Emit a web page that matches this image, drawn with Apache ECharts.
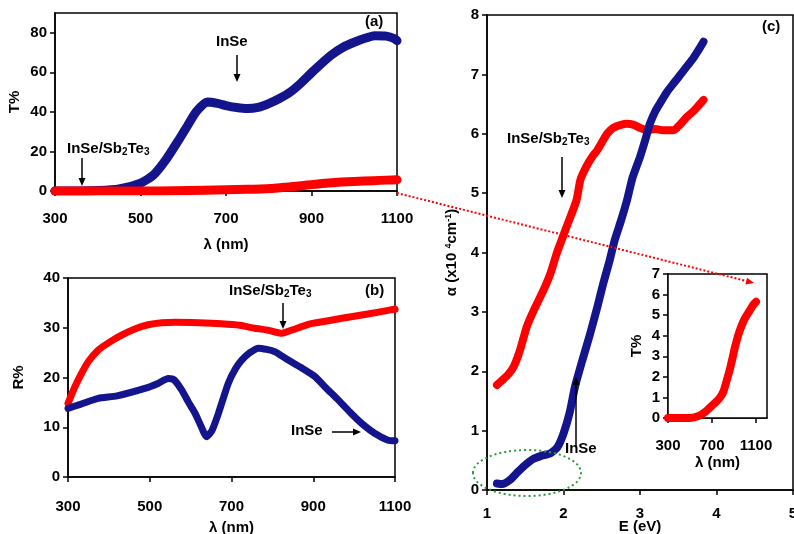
<!DOCTYPE html>
<html>
<head>
<meta charset="utf-8">
<script src="https://cdn.jsdelivr.net/npm/echarts@6/dist/echarts.min.js"></script>
<style>
  html, body { margin: 0; padding: 0; background: #fff; }
  #chart { width: 794px; height: 534px; }
</style>
</head>
<body>
<div id="chart"></div>
<script>
// (a) transmission T% vs wavelength
var tLambdaInSe = [300, 350, 400, 450, 500, 530, 560, 590, 610, 630, 656, 680, 700, 725, 750, 775, 800, 825, 850, 875, 906, 945, 975, 1000, 1025, 1047, 1075, 1094, 1100];
var tInSe       = [0, 0, 0.2, 1, 4, 8, 16, 26, 33, 40, 45, 44.3, 43.2, 42.2, 41.7, 42.3, 44.2, 46.8, 50, 54.5, 61, 68.5, 72.8, 75.2, 77.2, 78.5, 78.3, 77, 76];
var tLambdaHet  = [300, 400, 500, 580, 650, 700, 750, 780, 805, 830, 864, 890, 910, 940, 970, 1000, 1045, 1075, 1100];
var tHet        = [0, 0, 0, 0.1, 0.35, 0.6, 0.85, 1.05, 1.3, 1.75, 2.4, 3.0, 3.46, 4.05, 4.5, 4.85, 5.24, 5.5, 5.65];

// (b) reflectance R% vs wavelength
var rLambdaInSe = [300, 330, 374, 420, 488, 520, 545, 560, 578, 595, 611, 625, 639, 652, 668, 692, 710, 725, 745, 766, 806, 839, 870, 904, 930, 961, 990, 1018, 1050, 1083, 1100];
var rInSe       = [13.8, 14.6, 15.8, 16.3, 17.8, 18.8, 19.8, 19.5, 17.5, 15, 12.8, 10.3, 8.1, 9.3, 12.8, 18.8, 21.8, 23.5, 25, 25.9, 25.2, 23.5, 22, 20.2, 18, 15.5, 13, 10.8, 8.8, 7.4, 7.3];
var rLambdaHet  = [300, 315, 333, 350, 374, 400, 431, 465, 496, 530, 562, 620, 676, 720, 757, 790, 823, 850, 888, 930, 970, 1030, 1083, 1100];
var rHet        = [14.8, 17.8, 20.8, 23.2, 25.5, 27, 28.5, 29.8, 30.6, 31.0, 31.1, 31.0, 30.8, 30.5, 29.9, 29.5, 28.9, 29.6, 30.7, 31.3, 31.9, 32.7, 33.5, 33.7];

// (c) absorption coefficient vs photon energy
var eInSe     = [1.13, 1.2, 1.3, 1.4, 1.5, 1.6, 1.7, 1.83, 1.92, 2.0, 2.08, 2.15, 2.25, 2.35, 2.45, 2.52, 2.6, 2.67, 2.75, 2.83, 2.9, 3.0, 3.07, 3.13, 3.2, 3.26, 3.35, 3.44, 3.52, 3.61, 3.7, 3.77, 3.83];
var alphaInSe = [0.11, 0.1, 0.17, 0.3, 0.42, 0.52, 0.57, 0.62, 0.72, 0.95, 1.3, 1.74, 2.2, 2.64, 3.12, 3.48, 3.85, 4.21, 4.53, 4.88, 5.25, 5.61, 5.9, 6.17, 6.38, 6.51, 6.7, 6.85, 6.98, 7.13, 7.28, 7.42, 7.55];
var eHet      = [1.13, 1.2, 1.28, 1.35, 1.43, 1.52, 1.62, 1.74, 1.83, 1.91, 2.04, 2.17, 2.22, 2.3, 2.38, 2.44, 2.5, 2.57, 2.65, 2.75, 2.83, 2.92, 3.0, 3.09, 3.2, 3.3, 3.44, 3.52, 3.61, 3.7, 3.77, 3.83];
var alphaHet  = [1.77, 1.85, 1.95, 2.08, 2.35, 2.75, 3.05, 3.37, 3.65, 3.98, 4.43, 4.88, 5.22, 5.45, 5.62, 5.72, 5.85, 6.0, 6.1, 6.15, 6.17, 6.15, 6.1, 6.06, 6.08, 6.06, 6.06, 6.15, 6.28, 6.38, 6.48, 6.57];

var BLUE = '#14148c';
var RED = '#ff0000';
var FONT = 'Liberation Sans';

function pairs(xs, ys) {
    return xs.map(function (x, i) { return [x, ys[i]]; });
}

function plain(v) { return String(v); }

function xAx(idx, min, max, interval, name, gap, margin) {
    return {
        type: 'value', gridIndex: idx, min: min, max: max, interval: interval,
        name: name, nameLocation: 'middle', nameGap: gap, nameMoveOverlap: false,
        nameTextStyle: { fontFamily: FONT, fontWeight: 'bold', fontSize: 15, color: '#000' },
        axisLine: { show: true, lineStyle: { color: '#000', width: 1.5 } },
        axisTick: { show: true, length: 5, lineStyle: { color: '#000', width: 1.5 } },
        axisLabel: { fontFamily: FONT, fontWeight: 'bold', fontSize: 15, color: '#000', margin: margin,
                     formatter: plain, showMaxLabel: (max - min) % interval === 0 },
        splitLine: { show: false }
    };
}

function yAx(idx, min, max, interval, name, gap) {
    return {
        type: 'value', gridIndex: idx, min: min, max: max, interval: interval,
        name: name, nameLocation: 'middle', nameGap: gap, nameMoveOverlap: false,
        nameTextStyle: {
            fontFamily: FONT, fontWeight: 'bold', fontSize: 15, color: '#000',
            rich: { sup: { fontFamily: FONT, fontWeight: 'bold', fontSize: 9, color: '#000', verticalAlign: 'top', padding: [0, 0, 6, 0] } }
        },
        axisLine: { show: true, lineStyle: { color: '#000', width: 1.5 } },
        axisTick: { show: true, length: 5, lineStyle: { color: '#000', width: 1.5 } },
        axisLabel: { fontFamily: FONT, fontWeight: 'bold', fontSize: 15, color: '#000', margin: 8,
                     formatter: plain, showMaxLabel: (max - min) % interval === 0 },
        splitLine: { show: false }
    };
}

function line(idx, data, color, width, z) {
    return {
        type: 'line', xAxisIndex: idx, yAxisIndex: idx, data: data,
        showSymbol: false, smooth: 0.2, z: z,
        lineStyle: { color: color, width: width, cap: 'round', join: 'round' }
    };
}

var labelStyle = { fontFamily: FONT, fontWeight: 'bold', fontSize: 15, fill: '#000' };
var richSub = { sub: { fontFamily: FONT, fontWeight: 'bold', fontSize: 10, padding: [8, 0, 0, 0] } };

function label(x, y, text, rich) {
    return {
        type: 'text', left: x, top: y - 9, z: 100,
        style: Object.assign({ text: text, rich: rich }, labelStyle)
    };
}

function arrow(x1, y1, x2, y2, color, dash) {
    var ang = Math.atan2(y2 - y1, x2 - x1), h = 8, w = 3.5;
    var bx = x2 - h * Math.cos(ang), by = y2 - h * Math.sin(ang);
    return [
        { type: 'line', z: 100, shape: { x1: x1, y1: y1, x2: bx, y2: by },
          style: { stroke: color, lineWidth: dash ? 2 : 1.5, lineDash: dash || null } },
        { type: 'polygon', z: 100, shape: { points: [[x2, y2],
            [bx + w * Math.sin(ang), by - w * Math.cos(ang)],
            [bx - w * Math.sin(ang), by + w * Math.cos(ang)]] },
          style: { fill: color } }
    ];
}

var chart = echarts.init(document.getElementById('chart'));

var graphics = [
    label(365, 23, '(a)'),
    label(216, 43, 'InSe'),
    label(67, 150, 'InSe/Sb{sub|2}Te{sub|3}', richSub),
    label(365, 292, '(b)'),
    label(229, 292, 'InSe/Sb{sub|2}Te{sub|3}', richSub),
    label(291, 432, 'InSe'),
    label(762, 28, '(c)'),
    label(507, 140, 'InSe/Sb{sub|2}Te{sub|3}', richSub),
    label(565, 450, 'InSe'),
    { type: 'ellipse', z: 100, shape: { cx: 527, cy: 473, rx: 54, ry: 23 },
      style: { fill: null, stroke: '#2e9a3a', lineWidth: 2, lineDash: [2, 3] } }
]
    .concat(arrow(237, 55, 237, 82, '#000'))
    .concat(arrow(82, 158, 82, 186, '#000'))
    .concat(arrow(283, 303, 283, 329, '#000'))
    .concat(arrow(332, 432, 361, 432, '#000'))
    .concat(arrow(562, 157, 562, 198, '#000'))
    .concat(arrow(576, 446, 576, 377, '#000'))
    .concat(arrow(397, 193, 754, 283, RED, [2, 2]));

function grid(left, right, top, bottom, extra) {
    return Object.assign({
        left: left, right: right, top: top, bottom: bottom,
        outerBoundsMode: 'none', containLabel: false,
        show: true, borderColor: '#000', borderWidth: 1.5
    }, extra || {});
}

var option = {
    backgroundColor: '#fff',
    animation: false,
    grid: [
        grid(55, 397, 13, 343),
        grid(68, 399, 278, 57),
        grid(487, 1, 15, 44),
        grid(668, 27, 274, 116, { backgroundColor: '#fff', z: 3 })
    ],
    xAxis: [
        xAx(0, 300, 1100, 200, 'λ (nm)', 46, 20),
        xAx(1, 300, 1100, 200, 'λ (nm)', 43, 22),
        xAx(2, 1, 5, 1, 'E (eV)', 29, 16),
        xAx(3, 300, 1200, 400, 'λ (nm)', 37, 20)
    ],
    yAxis: [
        yAx(0, 0, 90, 20, 'T%', 33),
        yAx(1, 0, 40, 10, 'R%', 42),
        yAx(2, 0, 8, 1, 'α (x10 {sup|4}cm{sup|-1})', 28),
        yAx(3, 0, 7, 1, 'T%', 24)
    ],
    series: [
        line(0, pairs(tLambdaInSe, tInSe), BLUE, 9, 2),
        line(0, pairs(tLambdaHet, tHet), RED, 9, 3),
        line(1, pairs(rLambdaHet, rHet), RED, 7, 2),
        line(1, pairs(rLambdaInSe, rInSe), BLUE, 7, 3),
        line(2, pairs(eHet, alphaHet), RED, 8, 2),
        line(2, pairs(eInSe, alphaInSe), BLUE, 8, 3),
        line(3, pairs(tLambdaHet, tHet), RED, 8, 5)
    ],
    graphic: graphics
};

chart.setOption(option);
</script>
</body>
</html>
